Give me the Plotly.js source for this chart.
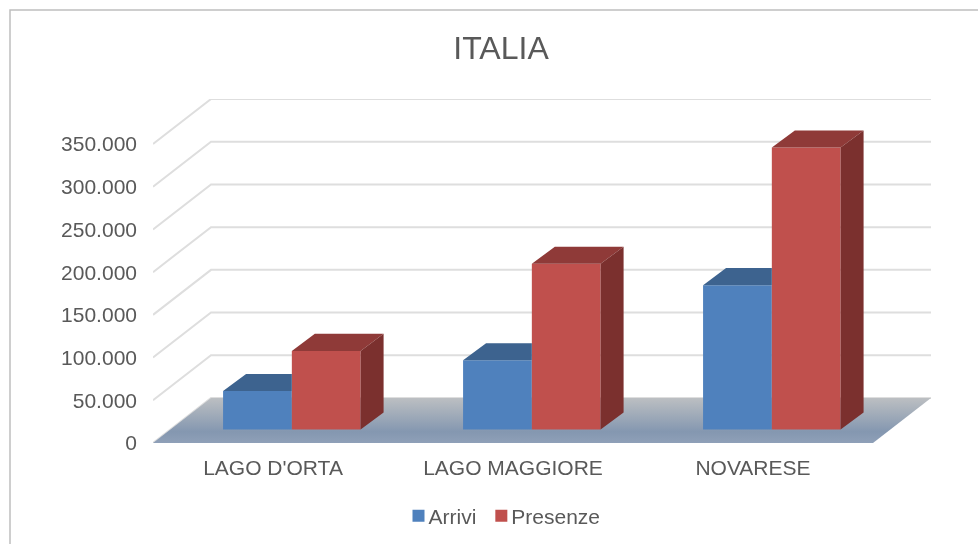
<!DOCTYPE html>
<html>
<head>
<meta charset="utf-8">
<script src="https://cdn.plot.ly/plotly-3.0.1.min.js"></script>
<style>html,body{margin:0;padding:0;background:#fff} #chart{filter:blur(0.45px)}</style>
</head>
<body>
<div id="chart" style="width:978px;height:544px"></div>
<script>
var categories = ["LAGO D'ORTA", "LAGO MAGGIORE", "NOVARESE"];
var arrivi = [45000, 81000, 169000];
var presenze = [92000, 194000, 330000];
var tickValues = [0, 50000, 100000, 150000, 200000, 250000, 300000, 350000];
var tickLabels = ["0", "50.000", "100.000", "150.000", "200.000", "250.000", "300.000", "350.000"];

var positions = categories.map(function (c, i) { return i; });
var FLOOR_DX = 0.2417, FLOOR_DY = 52700;
var BAR_DX = 0.0958, BAR_DY = 20000, BAR_BASE = 15800, BAR_W = 0.2865;
var OFF_A = -0.208, OFF_P = 0.0785;
var XR = [-0.5, 2.5 + FLOOR_DX], YR = [0, 350000 + FLOOR_DY];
var TEXT = '#595959', FONT = '"Liberation Sans", Arial, sans-serif';

function poly(name, xs, ys, color, axes) {
  return { type: 'scatter', mode: 'lines', x: xs, y: ys, fill: 'toself', fillcolor: color,
    line: { width: 0, color: color }, hoverinfo: 'skip', showlegend: false, name: name,
    xaxis: axes[0], yaxis: axes[1] };
}
function faces(vals, off, kind) {
  var xs = [], ys = [];
  vals.forEach(function (v, i) {
    var x0 = i + off, x1 = x0 + BAR_W, t = BAR_BASE + v, px, py;
    if (kind === 'topClipped') {
      px = [x0, x1, x1, x0 + BAR_DX, x0]; py = [t, t, t + BAR_DY, t + BAR_DY, t];
    } else if (kind === 'top') {
      px = [x0, x1, x1 + BAR_DX, x0 + BAR_DX, x0]; py = [t, t, t + BAR_DY, t + BAR_DY, t];
    } else {
      px = [x1, x1 + BAR_DX, x1 + BAR_DX, x1, x1]; py = [BAR_BASE, BAR_BASE + BAR_DY, t + BAR_DY, t, BAR_BASE];
    }
    xs = xs.concat(px, [null]); ys = ys.concat(py, [null]);
  });
  return [xs, ys];
}

var traces = [];
var gx = [], gy = [];
tickValues.forEach(function (v) {
  gx.push(XR[0], XR[0] + FLOOR_DX, XR[1], null);
  gy.push(v, v + FLOOR_DY, v + FLOOR_DY, null);
});
traces.push({ type: 'scatter', mode: 'lines', x: gx, y: gy, line: { color: '#dedede', width: 2 },
  hoverinfo: 'skip', showlegend: false, cliponaxis: false, xaxis: 'x', yaxis: 'y' });
traces.push({ type: 'scatter', mode: 'lines',
  x: [XR[0], 2.5, XR[1], XR[0] + FLOOR_DX, XR[0]],
  y: [0, 0, FLOOR_DY, FLOOR_DY, 0],
  fill: 'toself', line: { width: 0 }, hoverinfo: 'skip', showlegend: false,
  fillgradient: { type: 'vertical', colorscale: [[0, '#8fa0b8'], [0.25, '#8497b0'], [1, '#bcbfc2']] },
  xaxis: 'x', yaxis: 'y' });
traces.push({ type: 'bar', name: 'Arrivi', x: positions, y: arrivi, base: BAR_BASE, width: BAR_W, offset: OFF_A,
  marker: { color: '#4f81bd' }, xaxis: 'x2', yaxis: 'y2', hoverinfo: 'skip' });
traces.push({ type: 'bar', name: 'Presenze', x: positions, y: presenze, base: BAR_BASE, width: BAR_W, offset: OFF_P,
  marker: { color: '#c0504d' }, xaxis: 'x2', yaxis: 'y2', hoverinfo: 'skip' });
var ov = ['x2', 'y2'], f;
f = faces(arrivi, OFF_A, 'topClipped'); traces.push(poly('Arrivi top', f[0], f[1], '#3d638f', ov));
f = faces(presenze, OFF_P, 'top'); traces.push(poly('Presenze top', f[0], f[1], '#8f3a38', ov));
f = faces(presenze, OFF_P, 'side'); traces.push(poly('Presenze side', f[0], f[1], '#7b302e', ov));

var W = 978, H = 544, ML = 153, MR = 47, MT = 99, MB = 101;
function px(x) { return (x - ML) / (W - ML - MR); }
function py(y) { return (H - MB - y) / (H - MT - MB); }

var layout = {
  width: W, height: H, margin: { l: ML, r: MR, t: MT, b: MB, autoexpand: false },
  paper_bgcolor: '#ffffff', plot_bgcolor: 'rgba(0,0,0,0)',
  font: { family: FONT, color: TEXT, size: 21 },
  title: { text: 'ITALIA', font: { size: 32, color: TEXT, family: FONT }, x: 501 / W, xanchor: 'center',
    y: 1 - 48 / H, yanchor: 'middle' },
  barmode: 'overlay',
  xaxis: { range: XR, tickvals: positions, ticktext: categories, showgrid: false, zeroline: false, showline: false,
    ticks: '', tickfont: { size: 21, color: TEXT, family: FONT }, ticklabelstandoff: 10, fixedrange: true },
  yaxis: { range: YR, tickvals: tickValues, ticktext: tickLabels, showgrid: false, zeroline: false, showline: false,
    ticks: '', tickfont: { size: 21, color: TEXT, family: FONT }, ticklabelstandoff: 15, fixedrange: true },
  xaxis2: { range: XR, overlaying: 'x', anchor: 'y2', visible: false, fixedrange: true },
  yaxis2: { range: YR, overlaying: 'y', anchor: 'x2', visible: false, fixedrange: true },
  legend: { orientation: 'h', x: px(512), xanchor: 'center', y: py(516), yanchor: 'middle',
    font: { size: 21, color: TEXT, family: FONT }, bgcolor: 'rgba(0,0,0,0)', traceorder: 'normal' },
  shapes: [{ type: 'rect', xref: 'paper', yref: 'paper', x0: px(10), x1: px(990), y0: py(560), y1: py(10),
    line: { color: '#bfbfbf', width: 1.5 }, fillcolor: 'rgba(0,0,0,0)', layer: 'below' }]
};
Plotly.newPlot('chart', traces, layout, { displayModeBar: false }).then(function (gd) {
  // tighten the marker-to-label gap of the legend, which Plotly fixes at a minimum
  var GAP = 10;
  gd.querySelectorAll('.legend .traces').forEach(function (g, i) {
    var t = g.getAttribute('transform').match(/translate\(([-\d.]+)[, ]+([-\d.]+)\)/);
    g.setAttribute('transform', 'translate(' + (parseFloat(t[1]) - GAP * i) + ',' + t[2] + ')');
    var txt = g.querySelector('.legendtext');
    txt.setAttribute('x', parseFloat(txt.getAttribute('x')) - GAP);
  });
});
</script>
</body>
</html>
